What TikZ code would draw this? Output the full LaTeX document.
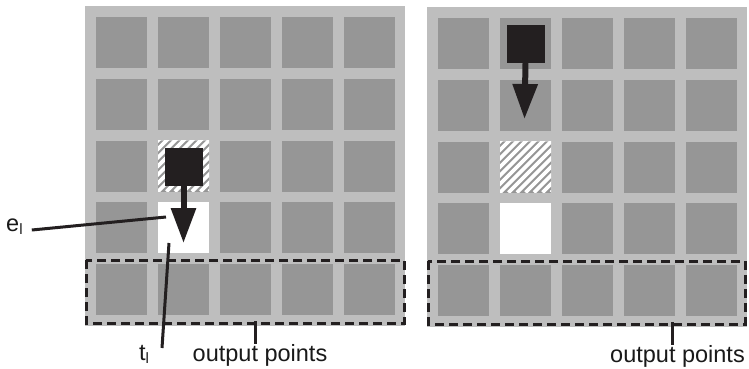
\documentclass[tikz,border=0pt]{standalone}
\usepackage{fontspec}
\setmainfont{Liberation Sans}
\usetikzlibrary{arrows.meta}
\definecolor{bglight}{RGB}{190,190,190}
\definecolor{celldark}{RGB}{150,150,150}
\definecolor{blk}{RGB}{35,31,32}
\tikzset{
  panel/.style={fill=bglight, draw=none},
  cellbox/.style={fill=celldark, draw=none, minimum size=51pt, inner sep=0pt, outer sep=0pt},
  whitecell/.style={cellbox, fill=white},
  blkbox/.style={fill=blk, draw=none, minimum size=38pt, inner sep=0pt},
  mvarrow/.style={blk, line width=6pt, -{Triangle[length=35pt,width=24pt]}},
  outbox/.style={draw=blk, line width=3pt, dash pattern=on 9pt off 5pt},
  leader/.style={draw=blk, line width=3pt},
  lbl/.style={font=\fontsize{23.5}{26}\selectfont, inner sep=0pt, text=black!90}
}
\begin{document}
\begin{tikzpicture}[x=1pt,y=-1pt]
\useasboundingbox (0,0) rectangle (749,368);
% panels
\fill[panel] (85,6) rectangle (405,326);
\fill[panel] (427,7) rectangle (747,327);
% cells
\foreach \side/\xo/\yo in {L/96/17, R/438/18} {
  \foreach \r in {1,...,5} {
    \foreach \c in {1,...,5} {
      \node[cellbox] (\side\r\c) at ({\xo+62*(\c-1)+25.5},{\yo+61.75*(\r-1)+25.5}) {};
    }
  }
}
% white target cells
\node[whitecell] (Lw) at (L42) {};
\node[whitecell] (Rw) at (R42) {};
% hatched cells
\foreach \cell in {L32,R32} {
  \begin{scope}
    \clip (\cell.south west) rectangle (\cell.north east);
    \foreach \i in {-68,-59.5,...,60} {
      \draw[white, line width=3.6pt] ([xshift=\i pt]\cell.south west) -- ++(60,-60);
    }
  \end{scope}
}
% moving block and arrows
\node[blkbox] (bL) at ([yshift=-0.5pt]L32) {};
\node[blkbox] (bR) at ([yshift=-0.5pt]R12) {};
\coordinate (aL) at (183.5,243);
\coordinate (aR) at (524.5,119);
\draw[mvarrow] (bL.south) -- (aL);
\draw[mvarrow] (bR.south) -- (aR);
% output boxes
\draw[outbox] (86,260) rectangle (404,323);
\draw[outbox] (428,261) rectangle (745,324);
% labels
\node[lbl, anchor=base west] (el) at (6,231) {e\raisebox{-0.32ex}{\fontsize{15}{16}\selectfont l}};
\node[lbl, anchor=base west] (tl) at (139,360) {t\raisebox{-0.32ex}{\fontsize{15}{16}\selectfont l}};
\node[lbl, anchor=base] (opL) at (260,361) {output points};
\node[lbl, anchor=base] (opR) at (677.5,362) {output points};
% leaders
\coordinate (elEnd) at (166,217);
\coordinate (tlEnd) at (169,243);
\coordinate (opLEnd) at (255,321);
\coordinate (opREnd) at (672,322);
\draw[leader] ([xshift=9pt]el.east |- 0,230) -- (elEnd);
\draw[leader] (162,348) -- (tlEnd);
\draw[leader] (opLEnd) -- (opLEnd |- opL.north);
\draw[leader] (opREnd) -- (opREnd |- opR.north);
\end{tikzpicture}
\end{document}
